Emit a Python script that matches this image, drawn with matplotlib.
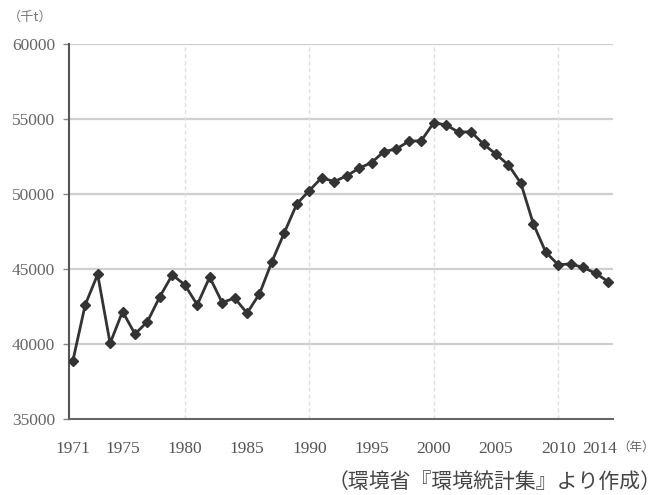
import matplotlib.pyplot as plt
from matplotlib.transforms import ScaledTranslation

# 年ごとの値（千t）
years = list(range(1971, 2015))
values = [38850, 42620, 44650, 40050, 42170, 40670, 41500, 43170, 44620, 43950,
          42620, 44470, 42770, 43070, 42070, 43350, 45500, 47440, 49350, 50240,
          51100, 50840, 51220, 51730, 52110, 52840, 53020, 53530, 53570, 54770,
          54620, 54130, 54170, 53330, 52670, 51950, 50730, 48020, 46130, 45290,
          45350, 45110, 44730, 44170]

x_ticks = [1971, 1975, 1980, 1985, 1990, 1995, 2000, 2005, 2010, 2014]
y_ticks = [35000, 40000, 45000, 50000, 55000, 60000]
v_grid = [1980, 1990, 2000, 2010]

serif = ['Liberation Serif', 'DejaVu Serif']
jp = ['Noto Sans CJK JP', 'DejaVu Sans']

fig = plt.figure(figsize=(6.65, 4.95), dpi=100)
ax = fig.add_axes([0.1038, 0.1535, 0.818, 0.757])

ax.plot(years, values, color='#333333', lw=2, marker='D', ms=5,
        mfc='#333333', mec='#333333', zorder=3)

ax.set_xlim(1970.7, 2014.4)
ax.set_ylim(35000, 60000)

# grid
for y in y_ticks[1:]:
    ax.axhline(y, color='#cfcfcf', lw=1.6, zorder=1)
for x in v_grid:
    ax.axvline(x, color='#e0e0e0', lw=1, ls=(0, (3, 2)), zorder=1)

ax.set_xticks(x_ticks)
ax.set_xticklabels([str(t) for t in x_ticks], family=serif, fontsize=12.5, color='#555555')
ax.set_yticks(y_ticks)
ax.set_yticklabels([str(t) for t in y_ticks], family=serif, fontsize=12.5, color='#666666')
ax.tick_params(axis='x', length=0, pad=16)
ax.tick_params(axis='y', length=4, width=1, color='#888888', pad=6)

# 2014 のラベルは少し左寄せ
last = ax.get_xticklabels()[-1]
last.set_transform(last.get_transform() + ScaledTranslation(-0.08, 0, fig.dpi_scale_trans))

for s in ['top', 'right']:
    ax.spines[s].set_visible(False)
ax.spines['left'].set_color('#555555')
ax.spines['left'].set_linewidth(1.5)
ax.spines['bottom'].set_color('#666666')
ax.spines['bottom'].set_linewidth(1.5)

fig.text(0.012, 0.966, '（千t）', family=jp, fontsize=9.5, color='#777777', va='center')
fig.text(0.928, 0.097, '（年）', family=jp, fontsize=9, color='#666666', va='center')
fig.text(0.995, 0.026, '（環境省『環境統計集』より作成）', family=jp, fontsize=15,
         color='#444444', ha='right', va='center')

fig.savefig('out.png', dpi=100, facecolor='white')
